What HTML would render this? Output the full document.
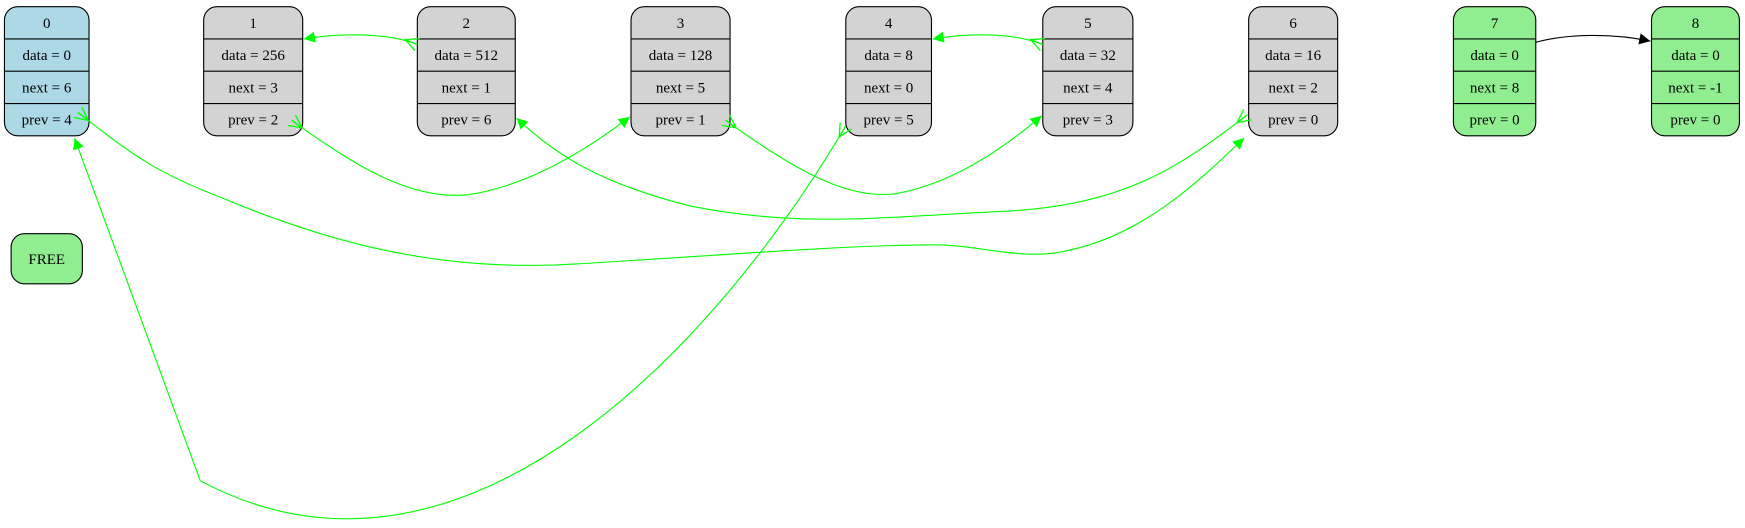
<!DOCTYPE html>
<html><head><meta charset="utf-8"><style>
html,body{margin:0;padding:0;background:#fff;}
svg{display:block;}
text{font-family:"Liberation Serif",serif;font-size:13.5px;fill:#000;}
</style></head><body>
<svg width="1745" height="528" viewBox="0 0 1568 474.4" preserveAspectRatio="none" xmlns="http://www.w3.org/2000/svg">
<defs>
<marker id="ag" viewBox="0 0 10 10" refX="10" refY="5" markerWidth="13" markerHeight="10" markerUnits="userSpaceOnUse" orient="auto"><path d="M0,0 L10,5 L0,10 Z" fill="#00ff00"/></marker>
<marker id="ab" viewBox="0 0 10 10" refX="10" refY="5" markerWidth="13" markerHeight="10" markerUnits="userSpaceOnUse" orient="auto"><path d="M0,0 L10,5 L0,10 Z" fill="#000"/></marker>
<marker id="vg" viewBox="-1 -1 12 12" refX="10" refY="5" markerWidth="14" markerHeight="14" markerUnits="userSpaceOnUse" orient="auto-start-reverse"><path d="M10,0 L0,5 L10,10 M0,5 L10,5" fill="none" stroke="#00ff00" stroke-width="1"/></marker>
</defs>
<g stroke="#000" stroke-width="1">
<rect x="4" y="6" width="76" height="116" rx="12" fill="#add8e6"/>
<rect x="183" y="6" width="89" height="116" rx="12" fill="#d3d3d3"/>
<rect x="375" y="6" width="88" height="116" rx="12" fill="#d3d3d3"/>
<rect x="567" y="6" width="89" height="116" rx="12" fill="#d3d3d3"/>
<rect x="760" y="6" width="77" height="116" rx="12" fill="#d3d3d3"/>
<rect x="937" y="6" width="81" height="116" rx="12" fill="#d3d3d3"/>
<rect x="1122" y="6" width="80" height="116" rx="12" fill="#d3d3d3"/>
<rect x="1306" y="6" width="74" height="116" rx="12" fill="#90ee90"/>
<rect x="1484" y="6" width="79" height="116" rx="12" fill="#90ee90"/>
<rect x="10" y="210" width="64" height="45" rx="12" fill="#90ee90"/>
<path d="M4,35H80M4,64H80M4,93H80 M183,35H272M183,64H272M183,93H272 M375,35H463M375,64H463M375,93H463 M567,35H656M567,64H656M567,93H656 M760,35H837M760,64H837M760,93H837 M937,35H1018M937,64H1018M937,93H1018 M1122,35H1202M1122,64H1202M1122,93H1202 M1306,35H1380M1306,64H1380M1306,93H1380 M1484,35H1563M1484,64H1563M1484,93H1563" fill="none"/>
</g>
<g text-anchor="middle">
<text x="42" y="25">0</text><text x="42" y="54">data = 0</text><text x="42" y="83">next = 6</text><text x="42" y="112">prev = 4</text>
<text x="227.5" y="25">1</text><text x="227.5" y="54">data = 256</text><text x="227.5" y="83">next = 3</text><text x="227.5" y="112">prev = 2</text>
<text x="419" y="25">2</text><text x="419" y="54">data = 512</text><text x="419" y="83">next = 1</text><text x="419" y="112">prev = 6</text>
<text x="611.5" y="25">3</text><text x="611.5" y="54">data = 128</text><text x="611.5" y="83">next = 5</text><text x="611.5" y="112">prev = 1</text>
<text x="798.5" y="25">4</text><text x="798.5" y="54">data = 8</text><text x="798.5" y="83">next = 0</text><text x="798.5" y="112">prev = 5</text>
<text x="977.5" y="25">5</text><text x="977.5" y="54">data = 32</text><text x="977.5" y="83">next = 4</text><text x="977.5" y="112">prev = 3</text>
<text x="1162" y="25">6</text><text x="1162" y="54">data = 16</text><text x="1162" y="83">next = 2</text><text x="1162" y="112">prev = 0</text>
<text x="1343" y="25">7</text><text x="1343" y="54">data = 0</text><text x="1343" y="83">next = 8</text><text x="1343" y="112">prev = 0</text>
<text x="1523.5" y="25">8</text><text x="1523.5" y="54">data = 0</text><text x="1523.5" y="83">next = -1</text><text x="1523.5" y="112">prev = 0</text>
<text x="42" y="237">FREE</text>
</g>
<g fill="none" stroke="#00ff00" stroke-width="1">
<path d="M375,40 C350,30 310,29 273,35" marker-start="url(#vg)" marker-end="url(#ag)"/>
<path d="M937,40 C912,30 875,29 838,35" marker-start="url(#vg)" marker-end="url(#ag)"/>
<path d="M262,108 C320,150 370,180 420,175 C470,168 520,140 566,105" marker-start="url(#vg)" marker-end="url(#ag)"/>
<path d="M652,108 C710,150 760,180 805,174 C855,165 900,135 936,104" marker-start="url(#vg)" marker-end="url(#ag)"/>
<path d="M1121,103 C1060,150 1010,185 900,190 C790,195 720,205 620,185 C540,165 500,140 464,106" marker-start="url(#vg)" marker-end="url(#ag)"/>
<path d="M70,101 C120,140 140,155 200,178 C300,220 400,245 520,237 C640,230 760,220 840,220 C880,220 920,235 960,225 C1030,210 1080,160 1118,124" marker-start="url(#vg)" marker-end="url(#ag)"/>
<path d="M760,113 C650,300 420,560 180,432 L67,124" marker-start="url(#vg)" marker-end="url(#ag)"/>
</g>
<path d="M1380,38 C1410,30 1450,30 1483,37" fill="none" stroke="#000" stroke-width="1" marker-end="url(#ab)"/>
</svg>
</body></html>
